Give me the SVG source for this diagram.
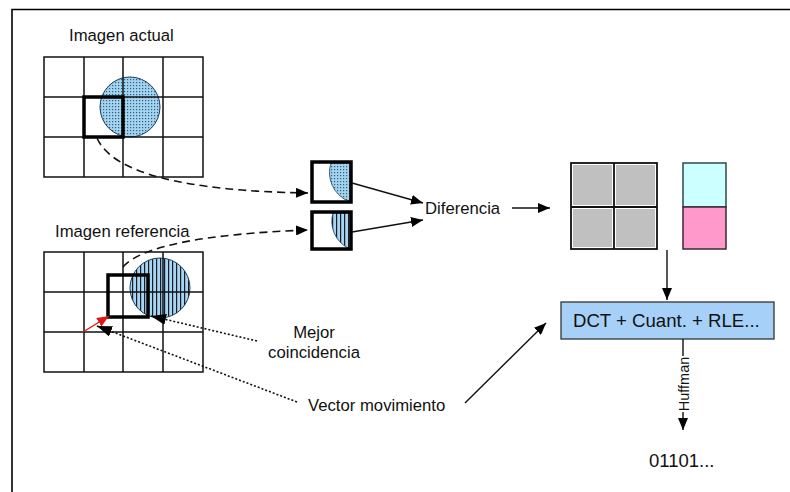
<svg xmlns="http://www.w3.org/2000/svg" width="790" height="492" viewBox="0 0 790 492">
<style>
text{font-family:"Liberation Sans",Arial,sans-serif;fill:#111}
.lbl{font-size:16.7px}
.grid{fill:none;stroke:#111;stroke-width:1.5}
.bold{fill:none;stroke:#000;stroke-width:3.5}
.conn{fill:none;stroke:#111;stroke-width:1.4}
.dash{fill:none;stroke:#111;stroke-width:1.6;stroke-dasharray:8 5}
.dot{fill:none;stroke:#111;stroke-width:1.6;stroke-dasharray:2 2}
</style>
<defs>
<pattern id="dots" width="3" height="3" patternUnits="userSpaceOnUse">
<rect width="3" height="3" fill="#a4d3ee"/>
<rect x="1" y="1" width="1.2" height="1.2" fill="#2a5f8a"/>
</pattern>
<pattern id="stripes" width="4" height="4" patternUnits="userSpaceOnUse">
<rect width="4" height="4" fill="#a8d6f0"/>
<rect x="0" y="0" width="1.2" height="4" fill="#1a1a2a"/>
</pattern>
<marker id="ah" viewBox="0 0 12 10" refX="12" refY="5" markerWidth="12" markerHeight="10" markerUnits="userSpaceOnUse" orient="auto">
<path d="M0,0 L12,5 L0,10 z" fill="#000"/>
</marker>
<marker id="ahL" viewBox="0 0 15 11" refX="15" refY="5.5" markerWidth="15" markerHeight="11" markerUnits="userSpaceOnUse" orient="auto">
<path d="M0,0 L15,5.5 L0,11 z" fill="#000"/>
</marker>
<marker id="ahR" viewBox="0 0 12 10" refX="12" refY="5" markerWidth="12" markerHeight="10" markerUnits="userSpaceOnUse" orient="auto">
<path d="M0,0 L12,5 L0,10 z" fill="#e01818"/>
</marker>
</defs>
<rect width="790" height="492" fill="#fff"/>
<path d="M12,492 L12,9.5 L790,9.5" fill="none" stroke="#000" stroke-width="1.6"/>

<g id="imagen-actual">
<text class="lbl" x="69" y="41">Imagen actual</text>
<circle cx="130" cy="107" r="30" fill="url(#dots)" stroke="#1c3b5a" stroke-width="1"/>
<rect class="grid" x="44" y="57" width="159" height="120"/>
<path class="grid" d="M84,57 V177 M123,57 V177 M163,57 V177 M44,97 H203 M44,137 H203"/>
<rect class="bold" x="84" y="97" width="39" height="40"/>
</g>

<g id="imagen-referencia">
<text class="lbl" x="55" y="237">Imagen referencia</text>
<circle cx="160" cy="288" r="30" fill="url(#stripes)" stroke="#1c3b5a" stroke-width="1"/>
<rect class="grid" x="44" y="252" width="159" height="120"/>
<path class="grid" d="M84,252 V372 M123,252 V372 M163,252 V372 M44,292 H203 M44,332 H203"/>
<rect class="bold" x="108" y="275" width="40" height="42"/>
<line x1="83" y1="332" x2="109" y2="316" stroke="#e01818" stroke-width="1.4" marker-end="url(#ahR)"/>
</g>

<g id="bloque-actual">
<path d="M331,163 A31,31 0 0 0 348,201 L350,201 L350,163 Z" fill="url(#dots)" stroke="#1c3b5a" stroke-width="0.8"/>
<rect class="bold" x="312" y="162" width="39" height="40"/>
</g>

<g id="bloque-referencia">
<path d="M333,213 A30,30 0 0 0 348,248 L350,248 L350,213 Z" fill="url(#stripes)" stroke="#1c3b5a" stroke-width="0.8"/>
<rect class="bold" x="312" y="212" width="39" height="37"/>
</g>

<g id="diferencia">
<text class="lbl" x="425" y="214">Diferencia</text>
</g>

<g id="residuo">
<rect x="571" y="163" width="86" height="86" fill="#fff"/>
<rect x="573" y="165" width="39" height="40" fill="#c0c0c0"/>
<rect x="616" y="165" width="39" height="40" fill="#c0c0c0"/>
<rect x="573" y="209" width="39" height="38" fill="#c0c0c0"/>
<rect x="616" y="209" width="39" height="38" fill="#c0c0c0"/>
<rect x="571" y="163" width="86" height="86" fill="none" stroke="#111" stroke-width="1.8"/>
<path d="M614,163 V249 M571,207 H657" stroke="#111" stroke-width="1.8"/>
</g>

<g id="color">
<rect x="683" y="163" width="43" height="44" fill="#ccffff" stroke="#2b4a4a" stroke-width="1.5"/>
<rect x="683" y="207" width="43" height="42" fill="#ff99cc" stroke="#3a2a33" stroke-width="1.5"/>
</g>

<g id="dct">
<rect x="561" y="302" width="213" height="37" fill="#a6d0f7" stroke="#333" stroke-width="1.3"/>
<text x="573" y="327" font-size="18.6">DCT + Cuant. + RLE...</text>
</g>

<g id="mejor-coincidencia">
<text class="lbl" x="314" y="338" text-anchor="middle">Mejor</text>
<text class="lbl" x="314" y="358" text-anchor="middle">coincidencia</text>
</g>

<g id="vector-movimiento">
<text class="lbl" x="308" y="411">Vector movimiento</text>
</g>

<g id="salida">
<text x="649" y="467" font-size="18.5">01101...</text>
</g>

<g id="connectors">
<path class="dash" d="M97,138 Q120,190 308,193" marker-end="url(#ah)"/>
<path class="dash" d="M123,267 Q150,236 308,230" marker-end="url(#ah)"/>
<line class="conn" x1="352" y1="183" x2="423" y2="203" marker-end="url(#ah)"/>
<line class="conn" x1="352" y1="232" x2="423" y2="220" marker-end="url(#ah)"/>
<line class="conn" x1="512" y1="208" x2="550" y2="208" marker-end="url(#ah)"/>
<line class="conn" x1="667" y1="250" x2="667" y2="300" marker-end="url(#ah)"/>
<line class="conn" x1="465" y1="403" x2="546" y2="323" marker-end="url(#ah)"/>
<line class="dot" x1="257" y1="341" x2="151" y2="316" marker-end="url(#ahL)"/>
<line class="dot" x1="297" y1="402" x2="97" y2="326" marker-end="url(#ahL)"/>
<line class="conn" x1="683" y1="339" x2="683" y2="356"/>
<text x="688.5" y="384" font-size="14.5" text-anchor="middle" transform="rotate(-90 688.5 384)">Huffman</text>
<line class="conn" x1="683" y1="412" x2="683" y2="430" marker-end="url(#ah)"/>
</g>
</svg>
